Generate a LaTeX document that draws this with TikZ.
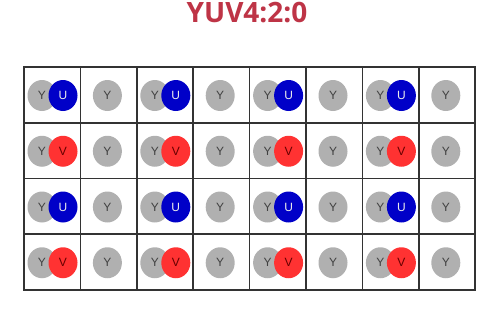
\documentclass[tikz,border=0pt]{standalone}
\usepackage{fontspec}
\setmainfont{Liberation Sans}
\newfontfamily\titlefont{Open Sans}
\usetikzlibrary{shapes.geometric}
\definecolor{lumagray}{RGB}{176,176,176}
\definecolor{chromablue}{RGB}{0,0,200}
\definecolor{chromared}{RGB}{255,50,50}
\definecolor{titlered}{RGB}{190,52,70}

\begin{document}
\begin{tikzpicture}[x=1pt, y=-1pt,
    cell/.style={draw=black!80, line width=1.6pt},
    luma/.style={ellipse, fill=lumagray, minimum width=29pt, minimum height=31pt, inner sep=0pt, text=black!75, font=\fontsize{12}{12}\selectfont},
    ublob/.style={luma, fill=chromablue, text=white!85!gray},
    vblob/.style={luma, fill=chromared, text=red!40!black}]
            \useasboundingbox (0,0) rectangle (487,308);
            \node[text=titlered, font=\titlefont\bfseries\fontsize{28}{28}\selectfont] (title) at (247,13) {YUV4:2:0};
            
            \foreach \r in {0,...,3} {
                \foreach \c in {0,...,7} {
                    \draw[cell] ({24+56.4*\c},{67+55.75*\r}) rectangle ++(56.4,55.75);
                    \pgfmathsetmacro{\yc}{67+55.75*\r+28.5}
                    \ifodd\c
                        \node[luma] (Y-\r-\c) at ({24+56.4*\c+27},\yc) {Y};
                    \else
                        \node[luma] (Y-\r-\c) at ({24+56.4*\c+18},\yc) {Y};
                        \ifodd\r
                            \node[vblob] (V-\r-\c) at ({24+56.4*\c+39},\yc) {V};
                        \else
                            \node[ublob] (U-\r-\c) at ({24+56.4*\c+39},\yc) {U};
                        \fi
                    \fi
                }
            }
        \end{tikzpicture}
\end{document}
